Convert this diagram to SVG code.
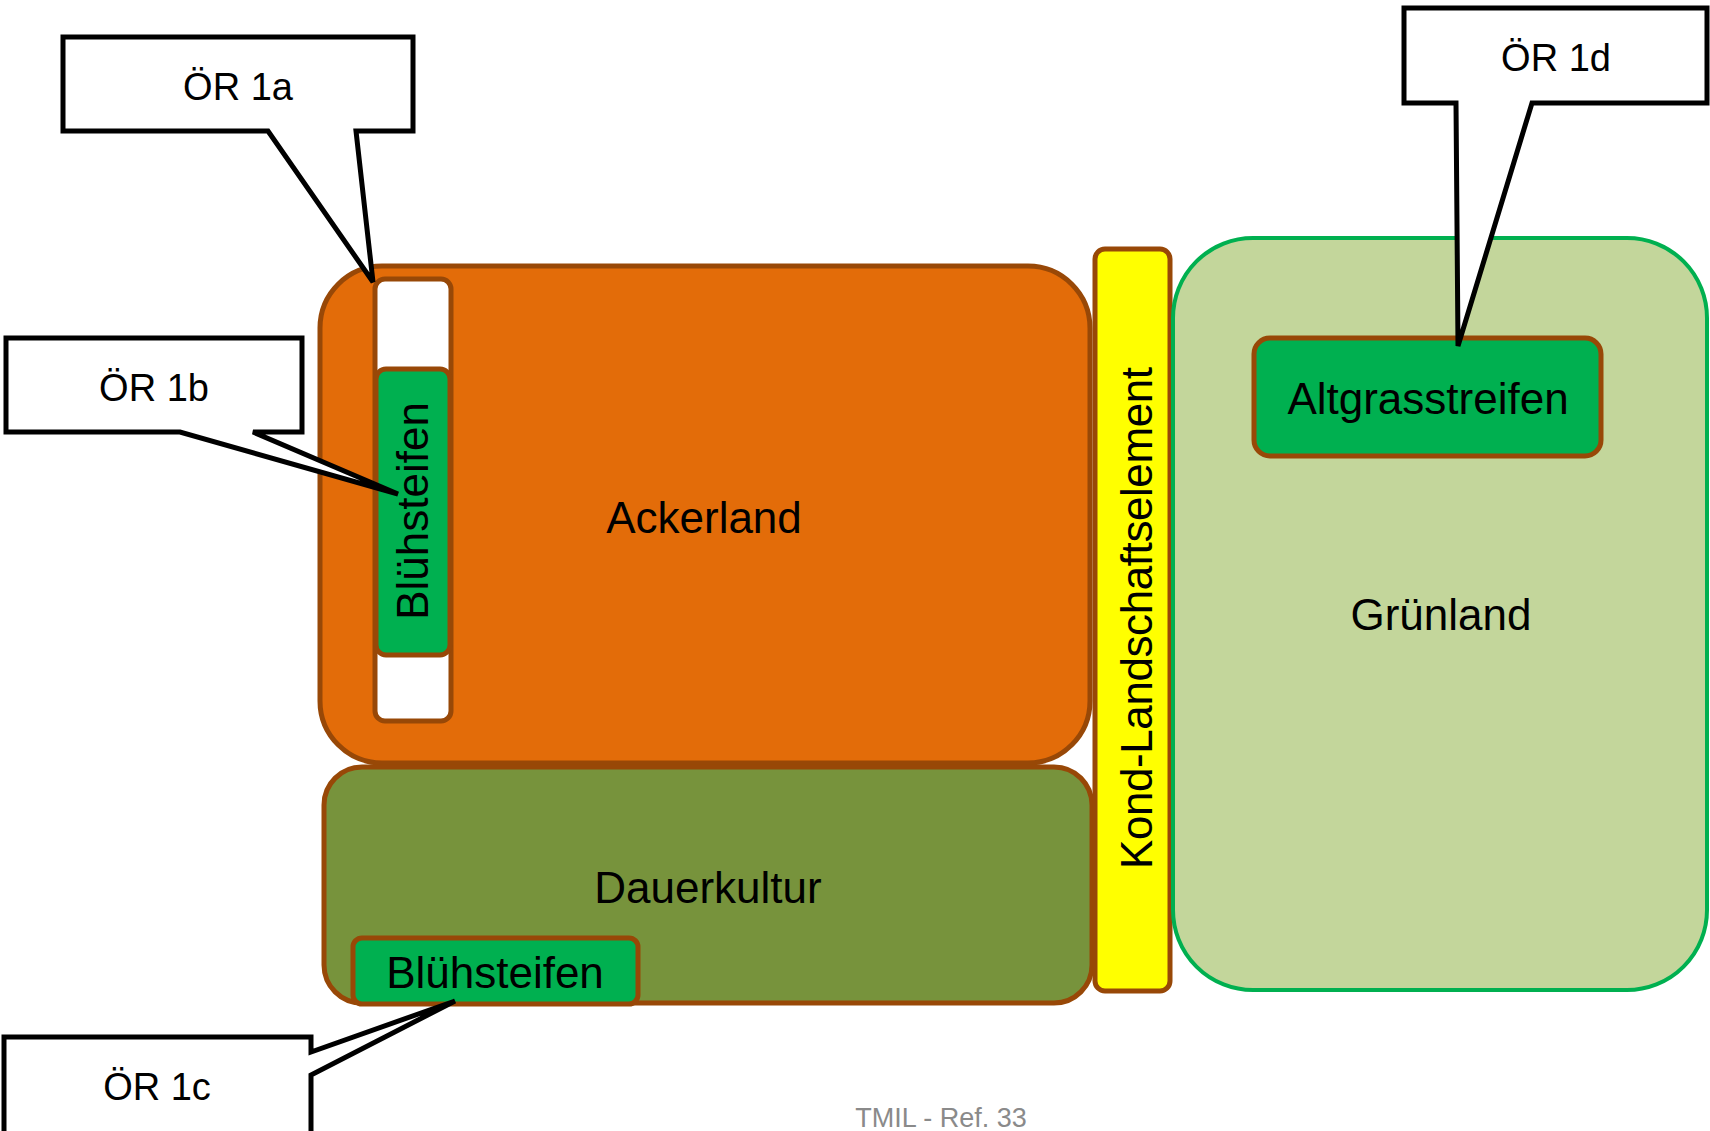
<svg xmlns="http://www.w3.org/2000/svg" width="1710" height="1131" viewBox="0 0 1710 1131">
<style>
.lbl{font-family:"Liberation Sans",Arial,sans-serif;fill:#000;}
.big{font-size:44px;}
.call{font-size:38px;}
.area{stroke:#984807;stroke-width:5;}
.callout{fill:#fff;stroke:#000;stroke-width:5;stroke-linejoin:miter;}
</style>
<rect width="1710" height="1131" fill="#fff"/>
<g id="ackerland">
<rect class="area" x="320" y="266" width="770" height="497" rx="62" fill="#E36C09"/>
<text class="lbl big" x="704" y="533" text-anchor="middle">Ackerland</text>
</g>
<g id="randstreifen">
<rect class="area" x="375" y="279" width="76" height="442" rx="10" fill="#fff"/>
</g>
<g id="bluehstreifen-acker">
<rect class="area" x="376" y="369" width="74" height="286" rx="10" fill="#00B050"/>
<text class="lbl big" transform="translate(428,511) rotate(-90)" text-anchor="middle" x="0" y="0">Blühsteifen</text>
</g>
<g id="dauerkultur">
<rect class="area" x="324" y="767" width="768" height="236" rx="38" fill="#77933C"/>
<text class="lbl big" x="708" y="903" text-anchor="middle">Dauerkultur</text>
</g>
<g id="bluehstreifen-dauer">
<rect class="area" x="353" y="938" width="285" height="66" rx="9" fill="#00B050"/>
<text class="lbl big" x="495" y="988" text-anchor="middle">Blühsteifen</text>
</g>
<g id="landschaftselement">
<rect class="area" x="1095" y="249" width="75" height="742" rx="10" fill="#FFFF00"/>
<text class="lbl big" transform="translate(1152,618) rotate(-90)" text-anchor="middle" x="0" y="0" textLength="502">Kond-Landschaftselement</text>
</g>
<g id="gruenland">
<rect x="1173" y="238" width="534" height="752" rx="80" fill="#C3D69B" stroke="#00B050" stroke-width="4"/>
<text class="lbl big" x="1441" y="630" text-anchor="middle">Grünland</text>
</g>
<g id="altgrasstreifen">
<rect class="area" x="1254" y="338" width="347" height="118" rx="16" fill="#00B050"/>
<text class="lbl big" x="1428" y="414" text-anchor="middle">Altgrasstreifen</text>
</g>
<g id="connectors">
<g id="callout-1a">
<path class="callout" d="M63,37 H413 V131 H356 L373,282 L268,131 H63 Z"/>
<text class="lbl call" x="238" y="100" text-anchor="middle">ÖR 1a</text>
</g>
<g id="callout-1b">
<path class="callout" d="M6,338 H302 V432 H253 L398,494 L180,432 H6 Z"/>
<text class="lbl call" x="154" y="401" text-anchor="middle">ÖR 1b</text>
</g>
<g id="callout-1c">
<path class="callout" d="M4,1138 V1037 H311 V1052 L455,1001 L311,1075 V1138"/>
<text class="lbl call" x="157" y="1100" text-anchor="middle">ÖR 1c</text>
</g>
<g id="callout-1d">
<path class="callout" d="M1404,8 H1707 V103 H1532 L1458,346 L1456,103 H1404 Z"/>
<text class="lbl call" x="1556" y="71" text-anchor="middle">ÖR 1d</text>
</g>
</g>
<text x="941" y="1127" text-anchor="middle" font-family="Liberation Sans, Arial, sans-serif" font-size="27" fill="#8A8A8A">TMIL - Ref. 33</text>
</svg>
